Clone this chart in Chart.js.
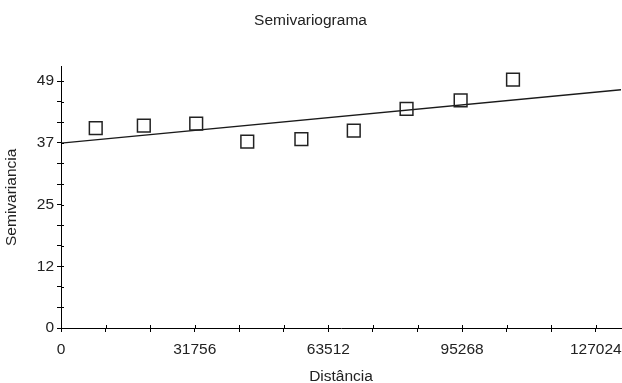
<!DOCTYPE html>
<html>
<head>
<meta charset="utf-8">
<script src="https://cdn.jsdelivr.net/npm/chart.js@4.4.0/dist/chart.umd.min.js"></script>
<style>
html,body{margin:0;padding:0;background:#fff;}
#c{display:block;}
</style>
</head>
<body>
<canvas id="c" width="622" height="383"></canvas>
<script>
// ---- data ----
const lagDistances = [8250, 19670, 32110, 44240, 57090, 69530, 82070, 94910, 107350];
const semivariances = [39.7, 40.2, 40.6, 37.0, 37.5, 39.2, 43.5, 45.2, 49.3];
const modelX = [0, 133000];
const modelY = [36.7, 47.3];
const xTickValues = [0, 31756, 63512, 95268, 127024];
const xTickLabels = ['0', '31756', '63512', '95268', '127024'];
const yTickValues = [0, 12.25, 24.5, 36.75, 49];
const yTickLabels = ['0', '12', '25', '37', '49'];

const FONT = "Arial, 'Liberation Sans', sans-serif";
const FS = 15.5;

function buildTicks(values) {
  const out = [];
  for (let i = 0; i < values.length; i++) {
    out.push({ value: values[i], major: true, idx: i });
    if (i < values.length - 1) {
      const a = values[i], b = values[i + 1];
      out.push({ value: a + (b - a) / 3 });
      out.push({ value: a + 2 * (b - a) / 3 });
    }
  }
  return out;
}

const crossTicks = {
  id: 'crossTicks',
  afterDraw(chart) {
    const ctx = chart.ctx;
    const xs = chart.scales.x, ys = chart.scales.y;
    ctx.save();
    ctx.strokeStyle = '#000';
    ctx.lineWidth = 1;
    ctx.beginPath();
    xs.ticks.forEach(t => {
      const px = Math.round(xs.getPixelForValue(t.value)) + 0.5;
      ctx.moveTo(px, ys.bottom);
      ctx.lineTo(px, ys.bottom - 3);
    });
    ys.ticks.forEach(t => {
      const py = Math.round(ys.getPixelForValue(t.value)) + 0.5;
      ctx.moveTo(xs.left, py);
      ctx.lineTo(xs.left + 3, py);
    });
    ctx.stroke();
    ctx.restore();
  }
};

new Chart(document.getElementById('c'), {
  data: {
    datasets: [
      {
        type: 'line',
        data: modelX.map((x, i) => ({ x: x, y: modelY[i] })),
        borderColor: '#1a1a1a',
        borderWidth: 1.3,
        pointRadius: 0,
        fill: false,
        order: 1
      },
      {
        type: 'scatter',
        data: lagDistances.map((x, i) => ({ x: x, y: semivariances[i] })),
        pointStyle: 'rect',
        pointRadius: 9,
        pointHoverRadius: 9,
        pointBorderColor: '#222',
        pointBackgroundColor: 'rgba(255,255,255,0)',
        pointBorderWidth: 1.5,
        order: 0
      }
    ]
  },
  options: {
    responsive: false,
    devicePixelRatio: 1,
    animation: false,
    layout: { autoPadding: false, padding: { left: 0, right: 1, top: 0, bottom: 0 } },
    plugins: {
      legend: { display: false },
      tooltip: { enabled: false },
      title: {
        display: true,
        text: 'Semivariograma',
        color: '#222',
        font: { family: FONT, size: FS, weight: 'normal', lineHeight: 1.2 },
        padding: { top: 11, bottom: 37 }
      }
    },
    scales: {
      x: {
        type: 'linear',
        min: 0,
        max: 133000,
        afterBuildTicks(scale) { scale.ticks = buildTicks(xTickValues); },
        afterFit(scale) { scale.height = 55; scale.paddingLeft = 0; scale.paddingRight = 0; },
        ticks: {
          autoSkip: false,
          maxRotation: 0,
          padding: 8,
          color: '#222',
          font: { family: FONT, size: FS },
          callback(value, index, ticks) {
            const t = ticks[index];
            return t && t.major ? xTickLabels[t.idx] : '';
          }
        },
        grid: { display: true, drawOnChartArea: false, drawTicks: true, tickLength: 4, color: '#000', lineWidth: 1 },
        border: { display: true, color: '#000', width: 1 },
        title: {
          display: true,
          text: 'Distância',
          color: '#222',
          font: { family: FONT, size: FS, lineHeight: 0.75 },
          padding: { top: 0, bottom: 0 }
        }
      },
      y: {
        type: 'linear',
        min: 0,
        max: 51.9,
        afterBuildTicks(scale) { scale.ticks = buildTicks(yTickValues); },
        afterFit(scale) { scale.width = 61; scale.paddingTop = 0; scale.paddingBottom = 0; },
        ticks: {
          autoSkip: false,
          padding: 3,
          color: '#222',
          font: { family: FONT, size: FS },
          callback(value, index, ticks) {
            const t = ticks[index];
            return t && t.major ? yTickLabels[t.idx] : '';
          }
        },
        grid: { display: true, drawOnChartArea: false, drawTicks: true, tickLength: 4, color: '#000', lineWidth: 1 },
        border: { display: true, color: '#000', width: 1 },
        title: {
          display: true,
          text: 'Semivariancia',
          color: '#222',
          font: { family: FONT, size: FS, lineHeight: 1 },
          padding: { top: 4, bottom: 4 }
        }
      }
    }
  },
  plugins: [crossTicks]
});
</script>
</body>
</html>
